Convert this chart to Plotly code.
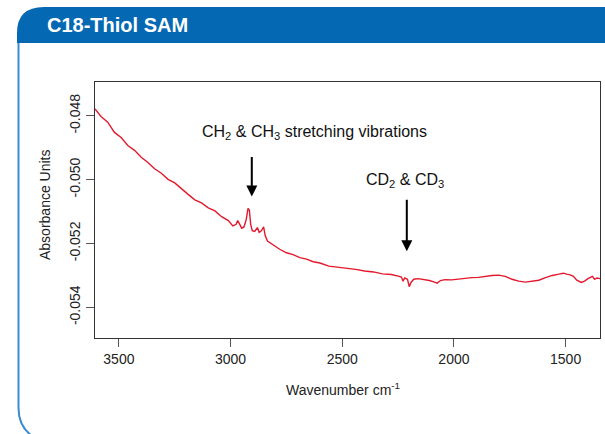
import plotly.graph_objects as go

# ---- data ----
wavenumber = [3607, 3580, 3550, 3520, 3490, 3460, 3430, 3400, 3370, 3340, 3310, 3280,
              3250, 3220, 3190, 3160, 3130, 3100, 3070, 3040, 3010, 2990, 2975, 2968,
              2960, 2950, 2940, 2930, 2922, 2916, 2910, 2903, 2892, 2880, 2872, 2862,
              2852, 2845, 2835, 2810, 2780, 2750, 2720, 2690, 2660, 2630, 2600, 2560,
              2520, 2480, 2440, 2400, 2360, 2320, 2280, 2250, 2235, 2228, 2220, 2208,
              2200, 2192, 2180, 2160, 2140, 2110, 2090, 2075, 2060, 2040, 2010, 1980,
              1950, 1920, 1890, 1860, 1830, 1800, 1770, 1740, 1710, 1680, 1650, 1620,
              1590, 1560, 1530, 1510, 1495, 1480, 1465, 1450, 1430, 1415, 1400, 1390,
              1380, 1370, 1360, 1346]
absorbance = [-0.04778, -0.04802, -0.04820, -0.04852, -0.04868, -0.04893, -0.04908, -0.04930,
              -0.04946, -0.04966, -0.04980, -0.04999, -0.05010, -0.05029, -0.05046, -0.05063,
              -0.05073, -0.05088, -0.05098, -0.05116, -0.05128, -0.05145, -0.05140, -0.05128,
              -0.05140, -0.05152, -0.05148, -0.05125, -0.05090, -0.05095, -0.05140, -0.05160,
              -0.05162, -0.05150, -0.05165, -0.05160, -0.05148, -0.05175, -0.05192, -0.05205,
              -0.05218, -0.05229, -0.05235, -0.05244, -0.05249, -0.05257, -0.05261, -0.05271,
              -0.05274, -0.05279, -0.05281, -0.05286, -0.05289, -0.05295, -0.05297, -0.05302,
              -0.05305, -0.05318, -0.05308, -0.05312, -0.05335, -0.05322, -0.05312, -0.05310,
              -0.05312, -0.05316, -0.05320, -0.05324, -0.05316, -0.05313, -0.05314, -0.05311,
              -0.05310, -0.05307, -0.05306, -0.05302, -0.05300, -0.05299, -0.05303, -0.05312,
              -0.05318, -0.05321, -0.05319, -0.05315, -0.05307, -0.05300, -0.05296, -0.05293,
              -0.05296, -0.05298, -0.05303, -0.05315, -0.05322, -0.05318, -0.05310, -0.05306,
              -0.05303, -0.05312, -0.05308, -0.05310]

x_ticks = [3500, 3000, 2500, 2000, 1500]
x_tick_labels = ["3500", "3000", "2500", "2000", "1500"]
y_ticks = [-0.048, -0.050, -0.052, -0.054]
y_tick_labels = ["-0.048", "-0.050", "-0.052", "-0.054"]

title_text = "C18-Thiol SAM"
x_title = "Wavenumber cm<sup>-1</sup>"
y_title = "Absorbance Units"
label_ch = "CH<sub>2</sub> & CH<sub>3</sub> stretching vibrations"
label_cd = "CD<sub>2</sub> & CD<sub>3</sub>"

# ---- layout geometry (page pixels; body margin removed) ----
W, H = 605, 434
L, R, T, B = 95, 600, 82, 338  # plot box on the page


def px(x):
    return (x - L) / (R - L)


def py(y):
    return (B - y) / (B - T)


FONT = "Liberation Sans, Arial, sans-serif"

fig = go.Figure()
fig.add_trace(go.Scatter(x=wavenumber, y=absorbance, mode="lines",
                         line=dict(color="#e3182d", width=1.4), hoverinfo="skip"))

header = ("M {:.4f},{:.4f} L {:.4f},{:.4f} Q {:.4f},{:.4f} {:.4f},{:.4f} "
          "L {:.4f},{:.4f} L {:.4f},{:.4f} Z").format(
    px(17), py(43), px(17), py(33), px(17), py(7), px(44), py(7),
    px(606), py(7), px(606), py(43))
border = ("M {:.4f},{:.4f} L {:.4f},{:.4f} Q {:.4f},{:.4f} {:.4f},{:.4f}").format(
    px(18.5), py(43), px(18.5), py(408), px(18.5), py(426), px(32), py(436))

shapes = [
    dict(type="path", path=header, xref="paper", yref="paper",
         fillcolor="#0568b3", line=dict(width=0), layer="above"),
    dict(type="path", path=border, xref="paper", yref="paper",
         line=dict(color="#3d8bd0", width=2), layer="above"),
]

annotations = [
    dict(text="<b>" + title_text + "</b>", xref="paper", yref="paper",
         x=px(45), y=py(25), xanchor="left", yanchor="middle", showarrow=False,
         font=dict(family=FONT, size=20, color="white")),
    dict(text=y_title, xref="paper", yref="paper", x=px(45), y=py(205),
         textangle=-90, showarrow=False, xanchor="center", yanchor="middle",
         font=dict(family=FONT, size=14, color="#222")),
    dict(text=x_title, xref="paper", yref="paper", x=px(343), y=py(389),
         showarrow=False, xanchor="center", yanchor="middle",
         font=dict(family=FONT, size=14, color="#222")),
    dict(text=label_ch, x=2624, y=-0.04853, xref="x", yref="y", showarrow=False,
         xanchor="center", yanchor="middle", font=dict(family=FONT, size=16, color="#111")),
    dict(text=label_cd, x=2217, y=-0.05003, xref="x", yref="y", showarrow=False,
         xanchor="center", yanchor="middle", font=dict(family=FONT, size=16, color="#111")),
    dict(text="", x=2905, y=-0.05053, xref="x", yref="y", showarrow=True,
         ax=0, ay=-41, arrowhead=2, arrowsize=1.1, arrowwidth=2, arrowcolor="black"),
    dict(text="", x=2211, y=-0.05224, xref="x", yref="y", showarrow=True,
         ax=0, ay=-53, arrowhead=2, arrowsize=1.1, arrowwidth=2, arrowcolor="black"),
]

axis_common = dict(showline=True, linecolor="#333", linewidth=1, mirror=True,
                   ticks="outside", ticklen=8, tickwidth=1, tickcolor="#555",
                   showgrid=False, zeroline=False,
                   tickfont=dict(family=FONT, size=14, color="#222"))

fig.update_layout(
    width=W, height=H,
    margin=dict(l=L, r=W - R, t=T, b=H - B, pad=0),
    paper_bgcolor="white", plot_bgcolor="white",
    showlegend=False,
    xaxis=dict(range=[3607, 1346], tickvals=x_ticks, ticktext=x_tick_labels, **axis_common),
    yaxis=dict(range=[-0.05496, -0.04694], tickvals=y_ticks, ticktext=y_tick_labels,
               tickangle=-90, **axis_common),
    shapes=shapes, annotations=annotations,
)

fig.write_html(
    "out.html",
    config={"displayModeBar": False},
    post_script="document.body.style.margin='0';document.body.style.overflow='hidden';",
)
